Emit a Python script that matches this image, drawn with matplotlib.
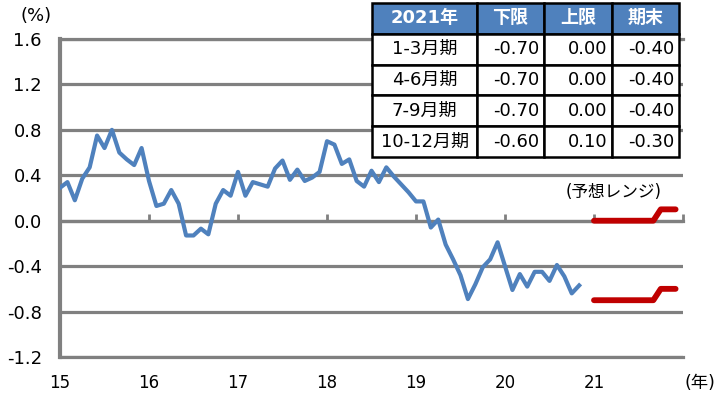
import numpy as np
import matplotlib
matplotlib.use('Agg')
from matplotlib import pyplot as plt

plt.rcParams['font.family'] = ['DejaVu Sans', 'Noto Sans CJK JP']

# %%
# monthly values, Jan 2015 - Nov 2020 (%)
actual = [0.29, 0.34, 0.18, 0.37, 0.47, 0.75, 0.64, 0.80, 0.60, 0.54, 0.49, 0.64,
          0.35, 0.13, 0.15, 0.27, 0.15, -0.13, -0.13, -0.07, -0.12, 0.15, 0.27, 0.22,
          0.43, 0.22, 0.34, 0.32, 0.30, 0.46, 0.53, 0.36, 0.45, 0.35, 0.38, 0.43,
          0.70, 0.67, 0.50, 0.54, 0.35, 0.30, 0.44, 0.34, 0.47, 0.39, 0.32, 0.25,
          0.17, 0.17, -0.06, 0.01, -0.21, -0.34, -0.48, -0.69, -0.56, -0.41, -0.34, -0.19,
          -0.40, -0.61, -0.47, -0.58, -0.45, -0.45, -0.53, -0.39, -0.49, -0.64, -0.57]
actual_start = 15

# forecast range 2021, monthly
range_lower = [-0.70, -0.70, -0.70, -0.70, -0.70, -0.70, -0.70, -0.70, -0.70, -0.60, -0.60, -0.60]
range_upper = [0.00, 0.00, 0.00, 0.00, 0.00, 0.00, 0.00, 0.00, 0.00, 0.10, 0.10, 0.10]
range_start = 21

year_ticks = [15, 16, 17, 18, 19, 20, 21]
y_ticks = [-1.2, -0.8, -0.4, 0.0, 0.4, 0.8, 1.2, 1.6]

table_header = ['2021年', '下限', '上限', '期末']
table_rows = [['1-3月期', '-0.70', '0.00', '-0.40'],
              ['4-6月期', '-0.70', '0.00', '-0.40'],
              ['7-9月期', '-0.70', '0.00', '-0.40'],
              ['10-12月期', '-0.60', '0.10', '-0.30']]

grid_gray = '#808080'
blue = '#4F81BD'
red = '#C00000'

# %%
fig = plt.figure(figsize=(7.18, 3.97), dpi=100)
ax = fig.add_axes([60/718, 1-357/397, 623/718, 318/397])

x_act = actual_start + np.arange(len(actual))/12
x_rng = range_start + np.arange(len(range_lower))/12
ax.plot(x_act, actual, color=blue, lw=3.0, solid_joinstyle='round', zorder=3)
ax.plot(x_rng, range_lower, color=red, lw=4.2, solid_capstyle='round', zorder=3)
ax.plot(x_rng, range_upper, color=red, lw=4.2, solid_capstyle='round', zorder=3)

ax.set_xlim(15, 22)
ax.set_ylim(-1.2, 1.6)
ax.set_yticks(y_ticks)
ax.set_yticklabels([f'{v:.1f}' for v in y_ticks])
ax.yaxis.grid(True, color=grid_gray, lw=2.3)
ax.tick_params(axis='y', length=0, pad=13, labelsize=13)

# x axis line sits at zero, ticks pointing up
ax.spines['bottom'].set_position(('data', 0))
ax.spines['bottom'].set_color(grid_gray)
ax.spines['bottom'].set_linewidth(2.3)
ax.set_xticks(year_ticks + [22])
ax.tick_params(axis='x', direction='in', length=5, width=2, color=grid_gray, labelbottom=False)
ax.spines['left'].set_color(grid_gray)
ax.spines['left'].set_linewidth(3)
ax.spines['right'].set_visible(False)
ax.spines['top'].set_color(grid_gray)
ax.spines['top'].set_linewidth(2.3)

sec = ax.secondary_xaxis('bottom')
sec.set_xticks(year_ticks)
sec.set_xticklabels([str(y) for y in year_ticks])
sec.tick_params(length=0, pad=12, labelsize=12)
sec.spines['bottom'].set_color(grid_gray)
sec.spines['bottom'].set_linewidth(2.3)

fig.text(20/718, 1-16/397, '(%)', fontsize=13, va='center', ha='left')
fig.text(684/718, 1-383/397, '(年)', fontsize=12.5, va='center', ha='left')
ax.text((566-60)/623, (357-192)/318, '(予想レンジ)', transform=ax.transAxes,
        fontsize=12, va='center', ha='left')

# %%
tb = ax.table(cellText=table_rows, colLabels=table_header,
              colWidths=[105, 67, 68, 67],
              bbox=[(372-60)/623, (357-157)/318, 307/623, 154/318],
              cellLoc='right', zorder=5)
tb.auto_set_font_size(False)
tb.set_fontsize(13)
for (r, c), cell in tb.get_celld().items():
    cell.set_edgecolor('black')
    cell.set_linewidth(1.8)
    cell.PAD = 0.07
    if r == 0:
        cell.set_facecolor(blue)
        cell.get_text().set_color('white')
        cell.get_text().set_fontweight('bold')
        cell._loc = 'center'
        cell.get_text().set_ha('center')
    elif c == 0:
        cell._loc = 'center'
        cell.get_text().set_ha('center')

plt.savefig('out.png', dpi=100)
